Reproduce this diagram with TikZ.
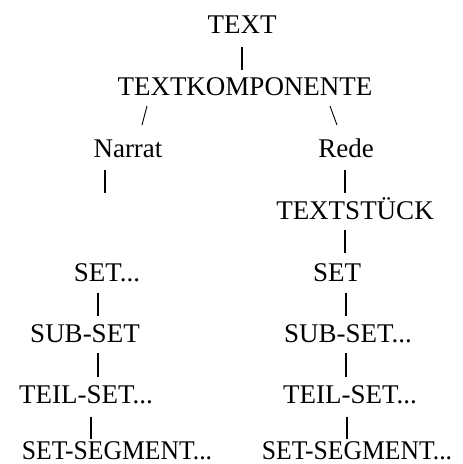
\documentclass[tikz,border=0pt]{standalone}
\usepackage{fontspec}
\setmainfont{Liberation Serif}
\begin{document}
\begin{tikzpicture}[x=1pt,y=-1pt,
  lbl/.style={inner sep=0pt,anchor=base,font=\fontsize{27}{32}\selectfont},
  bar/.style={line width=1.3pt}]
\useasboundingbox (0,0) rectangle (463,464);
% nodes
\node[lbl] (text) at (242,33) {TEXT};
\node[lbl] (tk) at (245,95) {TEXTKOMPONENTE};
\node[lbl] (narrat) at (128,157) {Narrat};
\node[lbl] (rede) at (346,157) {Rede};
\node[lbl] (ts) at (355,219) {TEXTSTÜCK};
\node[lbl] (setl) at (107,281) {SET...};
\node[lbl] (setr) at (337,281) {SET};
\node[lbl] (subl) at (85,342) {SUB-SET};
\node[lbl] (subr) at (348,342) {SUB-SET...};
\node[lbl] (teill) at (86,403) {TEIL-SET...};
\node[lbl] (teilr) at (350,403) {TEIL-SET...};
\node[lbl] (segl) at (117,459) {\scalebox{0.95}[1]{SET-SEGMENT...}};
\node[lbl] (segr) at (357,459) {\scalebox{0.95}[1]{SET-SEGMENT...}};
% connector end points
\coordinate (a1) at (242,47);  \coordinate (a2) at (242,70);
\coordinate (b1) at (147,106); \coordinate (b2) at (142,125);
\coordinate (c1) at (330,106); \coordinate (c2) at (337,125);
\coordinate (d1) at (105,170); \coordinate (d2) at (105,193);
\coordinate (e1) at (345,170); \coordinate (e2) at (345,193);
\coordinate (f1) at (345,230); \coordinate (f2) at (345,253);
\coordinate (g1) at (98,293);  \coordinate (g2) at (98,316);
\coordinate (h1) at (346,293); \coordinate (h2) at (346,316);
\coordinate (i1) at (98,353);  \coordinate (i2) at (98,377);
\coordinate (j1) at (346,353); \coordinate (j2) at (346,377);
\coordinate (k1) at (91,417);  \coordinate (k2) at (91,439);
\coordinate (l1) at (347,417); \coordinate (l2) at (347,439);
% connectors
\draw[bar] (a1) -- (a2);
\draw[line width=0.9pt] (b1) -- (b2);
\draw[line width=0.9pt] (c1) -- (c2);
\draw[bar] (d1) -- (d2);
\draw[bar] (e1) -- (e2);
\draw[bar] (f1) -- (f2);
\draw[bar] (g1) -- (g2);
\draw[bar] (h1) -- (h2);
\draw[bar] (i1) -- (i2);
\draw[bar] (j1) -- (j2);
\draw[bar] (k1) -- (k2);
\draw[bar] (l1) -- (l2);
\end{tikzpicture}
\end{document}
